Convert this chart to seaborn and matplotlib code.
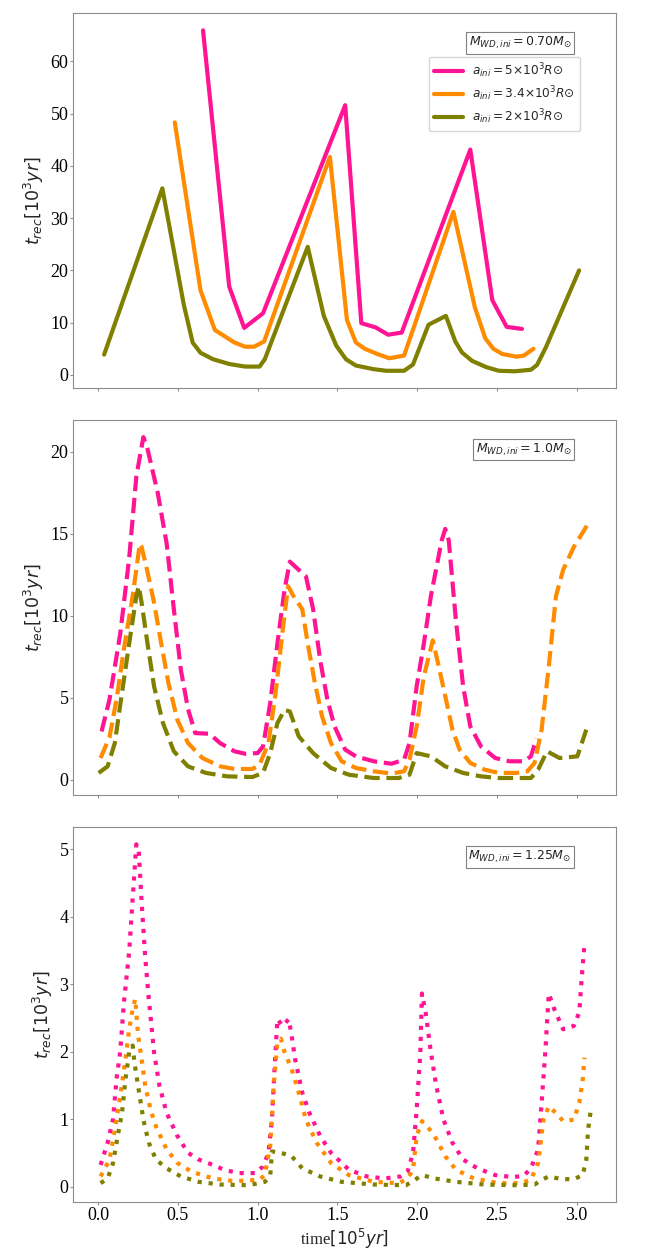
import numpy as np
import matplotlib
matplotlib.use("Agg")
import matplotlib.pyplot as plt
import seaborn as sns

# ---- panel 1: M_WD,ini = 0.70 (solid) ----
t1_a5 = [0.658, 0.822, 0.916, 1.034, 1.549, 1.650, 1.739, 1.818, 1.903, 2.333, 2.471, 2.561, 2.657]
v1_a5 = [65.9, 16.9, 9.0, 11.8, 51.6, 9.9, 9.1, 7.7, 8.1, 43.1, 14.3, 9.2, 8.8]

t1_a34 = [0.481, 0.642, 0.732, 0.855, 0.922, 0.978, 1.041, 1.453, 1.560, 1.616, 1.672, 1.751,
          1.824, 1.918, 2.227, 2.362, 2.427, 2.478, 2.534, 2.624, 2.668, 2.729]
v1_a34 = [48.3, 16.2, 8.6, 6.2, 5.4, 5.4, 6.4, 41.7, 10.5, 6.2, 5.0, 4.0,
          3.2, 3.7, 31.2, 12.9, 7.0, 5.0, 4.0, 3.5, 3.7, 5.0]

t1_a2 = [0.038, 0.403, 0.537, 0.593, 0.642, 0.721, 0.822, 0.922, 1.012, 1.045, 1.314, 1.415,
         1.493, 1.554, 1.616, 1.728, 1.807, 1.918, 1.974, 2.071, 2.180, 2.239, 2.281, 2.344,
         2.433, 2.512, 2.612, 2.713, 2.751, 2.807, 3.015]
v1_a2 = [3.9, 35.7, 13.5, 6.2, 4.25, 3.0, 2.1, 1.6, 1.6, 3.0, 24.5, 11.3,
         5.6, 3.0, 1.8, 1.1, 0.8, 0.8, 2.0, 9.6, 11.3, 6.4, 4.3, 2.7,
         1.5, 0.8, 0.7, 1.0, 1.9, 5.3, 20.0]

# ---- panel 2: M_WD,ini = 1.0 (dashed) ----
t2_a5 = [0.022, 0.072, 0.139, 0.195, 0.240, 0.284, 0.307, 0.374, 0.430, 0.475, 0.519, 0.564,
         0.609, 0.698, 0.765, 0.855, 0.922, 1.000, 1.034, 1.079, 1.124, 1.169, 1.202, 1.303,
         1.348, 1.392, 1.437, 1.482, 1.549, 1.616, 1.728, 1.840, 1.918, 1.952, 1.997, 2.042,
         2.086, 2.154, 2.176, 2.198, 2.243, 2.288, 2.333, 2.400, 2.489, 2.579, 2.668, 2.713, 2.747]
v2_a5 = [2.94, 4.9, 8.9, 13.5, 18.5, 20.9, 20.3, 17.5, 14.4, 10.4, 6.7, 4.3,
         2.84, 2.8, 2.23, 1.73, 1.58, 1.62, 2.03, 4.67, 8.3, 11.6, 13.3, 12.4,
         10.4, 7.3, 4.9, 3.25, 1.83, 1.42, 1.12, 0.97, 1.22, 2.23, 5.7, 8.3,
         11.2, 14.6, 15.3, 14.6, 9.7, 5.7, 3.25, 2.03, 1.32, 1.12, 1.12, 1.42, 2.5]

t2_a34 = [0.016, 0.072, 0.116, 0.161, 0.217, 0.262, 0.273, 0.307, 0.351, 0.396, 0.441, 0.497,
          0.564, 0.654, 0.766, 0.855, 0.967, 1.012, 1.068, 1.113, 1.157, 1.191, 1.225, 1.280,
          1.314, 1.359, 1.404, 1.460, 1.527, 1.616, 1.728, 1.840, 1.918, 1.952, 1.997, 2.042,
          2.098, 2.131, 2.176, 2.221, 2.266, 2.333, 2.422, 2.512, 2.624, 2.691, 2.736, 2.780,
          2.825, 2.870, 2.915, 2.982, 3.083]
v2_a34 = [1.32, 2.6, 4.9, 7.9, 11.2, 14.4, 14.2, 12.8, 10.8, 8.3, 5.9, 3.65,
          2.23, 1.32, 0.81, 0.65, 0.65, 0.91, 2.23, 5.3, 9.1, 11.8, 11.2, 10.4,
          8.3, 5.9, 3.86, 2.23, 1.12, 0.71, 0.51, 0.37, 0.51, 1.22, 3.25, 6.3,
          8.5, 7.1, 5.1, 3.05, 1.83, 1.02, 0.61, 0.41, 0.41, 0.51, 1.02, 3.05,
          6.9, 11.2, 12.8, 14.2, 15.8]

t2_a2 = [0.004, 0.060, 0.105, 0.150, 0.195, 0.240, 0.255, 0.273, 0.307, 0.351, 0.407, 0.475,
         0.564, 0.676, 0.810, 0.967, 1.034, 1.079, 1.124, 1.169, 1.202, 1.258, 1.348, 1.460,
         1.572, 1.728, 1.885, 1.952, 1.997, 2.086, 2.176, 2.288, 2.400, 2.512, 2.713, 2.758,
         2.814, 2.892, 3.004, 3.060]
v2_a2 = [0.41, 0.81, 2.23, 5.3, 8.3, 11.2, 11.8, 10.8, 8.5, 5.7, 3.45, 1.73,
         0.81, 0.41, 0.2, 0.16, 0.41, 1.62, 3.45, 4.26, 4.16, 2.64, 1.62, 0.71,
         0.3, 0.1, 0.1, 0.3, 1.62, 1.42, 0.81, 0.41, 0.2, 0.1, 0.1, 0.61,
         1.73, 1.32, 1.42, 3.05]

# ---- panel 3: M_WD,ini = 1.25 (dotted) ----
t3_a5 = [0.016, 0.060, 0.094, 0.116, 0.139, 0.161, 0.195, 0.217, 0.240, 0.255, 0.273, 0.296,
         0.318, 0.351, 0.385, 0.430, 0.497, 0.564, 0.631, 0.721, 0.788, 0.878, 0.989, 1.034,
         1.068, 1.090, 1.106, 1.124, 1.157, 1.195, 1.213, 1.235, 1.280, 1.325, 1.392, 1.460,
         1.572, 1.684, 1.795, 1.896, 1.940, 1.974, 1.997, 2.020, 2.030, 2.053, 2.086, 2.120,
         2.165, 2.221, 2.288, 2.378, 2.489, 2.601, 2.668, 2.713, 2.758, 2.780, 2.803, 2.825,
         2.859, 2.915, 2.982, 3.016, 3.031, 3.049]
v3_a5 = [0.32, 0.65, 1.0, 1.6, 2.0, 2.7, 3.48, 4.27, 5.07, 4.97, 4.22, 3.38,
         2.78, 1.99, 1.49, 1.09, 0.75, 0.5, 0.4, 0.32, 0.25, 0.2, 0.2, 0.3,
         0.5, 1.0, 1.74, 2.48, 2.38, 2.48, 2.24, 1.89, 1.39, 1.09, 0.75, 0.5,
         0.25, 0.15, 0.12, 0.15, 0.22, 0.5, 1.14, 1.99, 2.86, 2.58, 1.99, 1.49,
         0.99, 0.65, 0.4, 0.27, 0.17, 0.14, 0.16, 0.27, 0.55, 1.24, 1.99, 2.86,
         2.63, 2.33, 2.38, 2.58, 3.08, 3.6]

t3_a34 = [0.016, 0.072, 0.105, 0.139, 0.172, 0.195, 0.217, 0.233, 0.251, 0.273, 0.296, 0.329,
          0.363, 0.430, 0.497, 0.587, 0.721, 0.855, 1.012, 1.045, 1.079, 1.101, 1.124, 1.146,
          1.169, 1.213, 1.258, 1.303, 1.370, 1.460, 1.572, 1.728, 1.885, 1.940, 1.974, 1.997,
          2.030, 2.064, 2.109, 2.176, 2.243, 2.355, 2.512, 2.646, 2.713, 2.758, 2.792, 2.825,
          2.870, 2.915, 2.982, 3.016, 3.038, 3.049]
v3_a34 = [0.15, 0.4, 0.84, 1.34, 1.89, 2.33, 2.63, 2.78, 2.24, 1.89, 1.49, 1.14,
          0.89, 0.55, 0.35, 0.22, 0.12, 0.08, 0.1, 0.17, 0.6, 1.49, 2.14, 2.19,
          1.99, 1.74, 1.39, 0.99, 0.65, 0.35, 0.17, 0.07, 0.05, 0.12, 0.25, 0.75,
          0.97, 0.89, 0.75, 0.45, 0.25, 0.12, 0.05, 0.05, 0.1, 0.35, 0.99, 1.19,
          1.09, 0.97, 0.99, 1.24, 1.59, 1.91]

t3_a2 = [0.016, 0.060, 0.094, 0.127, 0.150, 0.172, 0.195, 0.217, 0.228, 0.251, 0.284, 0.318,
         0.363, 0.430, 0.519, 0.631, 0.765, 0.945, 1.045, 1.079, 1.090, 1.146, 1.213, 1.280,
         1.392, 1.527, 1.728, 1.930, 1.986, 2.030, 2.109, 2.243, 2.422, 2.624, 2.736, 2.780,
         2.825, 2.904, 2.982, 3.038, 3.060, 3.071, 3.089]
v3_a2 = [0.05, 0.12, 0.35, 0.8, 1.09, 1.59, 1.99, 2.09, 1.84, 1.49, 0.99, 0.65,
         0.4, 0.27, 0.15, 0.07, 0.03, 0.02, 0.07, 0.15, 0.52, 0.5, 0.45, 0.27,
         0.15, 0.07, 0.03, 0.02, 0.1, 0.17, 0.12, 0.07, 0.03, 0.02, 0.03, 0.1,
         0.15, 0.11, 0.11, 0.17, 0.4, 0.84, 1.14]

legend_labels = [r"$a_{ini}=5{\times}10^3R{\odot}$",
                 r"$a_{ini}=3.4{\times}10^3R{\odot}$",
                 r"$a_{ini}=2{\times}10^3R{\odot}$"]
mass_labels = [r"$M_{WD,ini}=0.70M_{\odot}$",
               r"$M_{WD,ini}=1.0M_{\odot}$",
               r"$M_{WD,ini}=1.25M_{\odot}$"]
colors = ["#ff1493", "#ff8c00", "#808000"]

panels = [
    [(t1_a5, v1_a5), (t1_a34, v1_a34), (t1_a2, v1_a2)],
    [(t2_a5, v2_a5), (t2_a34, v2_a34), (t2_a2, v2_a2)],
    [(t3_a5, v3_a5), (t3_a34, v3_a34), (t3_a2, v3_a2)],
]
styles = ["-", "--", ":"]

sns.set_style("ticks")
plt.rcParams["axes.edgecolor"] = "0.55"
plt.rcParams["xtick.color"] = "0.55"
plt.rcParams["ytick.color"] = "0.55"
plt.rcParams["xtick.labelcolor"] = "black"
plt.rcParams["ytick.labelcolor"] = "black"

fig = plt.figure(figsize=(6.46, 12.58), dpi=100)
left, width, height = 0.1135, 0.840, 0.2981
bottoms = [0.6913, 0.3680, 0.0443]
axes = []
for b in bottoms:
    ax = fig.add_axes([left, b, width, height], sharex=axes[0] if axes else None)
    axes.append(ax)

for i, ax in enumerate(axes):
    for j, (t, v) in enumerate(panels[i]):
        sns.lineplot(x=t, y=v, ax=ax, color=colors[j], linestyle=styles[i],
                     linewidth=3, sort=False, estimator=None,
                     label=legend_labels[j] if i == 0 else None)
    ax.set_ylabel(r"$t_{rec}[10^3yr]$", fontsize=12.5, labelpad=3)
    ax.set_xlabel("")
    ax.tick_params(length=2, width=0.8, pad=1.5)
    ax.text(0.918, 0.943, mass_labels[i], transform=ax.transAxes, ha="right", va="top",
            fontsize=9,
            bbox=dict(boxstyle="square,pad=0.2", facecolor="white", edgecolor="0.5", linewidth=0.8))
    if i < 2:
        ax.tick_params(labelbottom=False)

axes[0].set_xlim(-0.155, 3.246)
axes[0].set_yticks([0, 10, 20, 30, 40, 50, 60])
axes[1].set_yticks([0, 5, 10, 15, 20])
axes[2].set_yticks([0, 1, 2, 3, 4, 5])
axes[2].set_xticks([0.0, 0.5, 1.0, 1.5, 2.0, 2.5, 3.0])
for ax in axes:
    for lab in ax.get_yticklabels():
        lab.set_fontfamily("Liberation Serif")
        lab.set_fontsize(13)
for lab in axes[2].get_xticklabels():
    lab.set_fontfamily("Liberation Serif")
    lab.set_fontsize(13)

axes[0].legend(loc="upper right", bbox_to_anchor=(0.934, 0.884), fontsize=8.7,
               handlelength=2.4, labelspacing=0.35, frameon=True, borderaxespad=0)

axes[2].set_xlabel("time" + r"$[10^5yr]$", fontsize=12, family=["Liberation Serif", "DejaVu Sans"],
                   labelpad=2)

fig.savefig("out.png", dpi=100)
